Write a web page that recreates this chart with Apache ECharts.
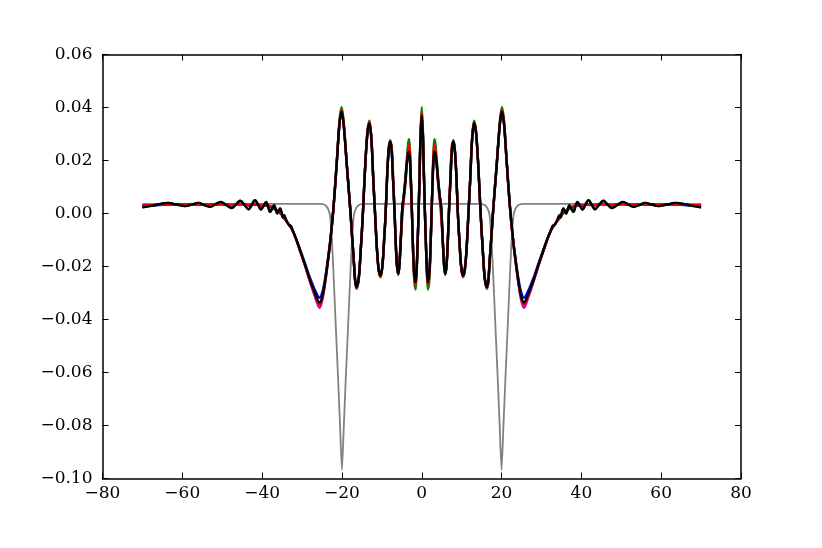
<!DOCTYPE html>
<html>
<head>
<meta charset="utf-8">
<script src="https://cdn.jsdelivr.net/npm/echarts@6/dist/echarts.min.js"></script>
<style>
  html, body { margin: 0; padding: 0; background: #fff; }
  #chart { width: 822px; height: 548px; }
</style>
</head>
<body>
<div id="chart"></div>
<script>
// shared x positions of the wave curves
var xs = [
  -70, -67, -63.5, -61.5, -59.3, -57.6, -56, -54.5, -53, -51.7,
  -50.4, -49, -47.6, -46.5, -45.5, -44.4, -43.4, -42.6, -41.8, -41,
  -40.3, -39.6, -39, -38.5, -38, -37.5, -37, -36.6, -36.2, -35.8,
  -35.5, -35.1, -34.8, -34.5, -34.1, -33.7, -33.2, -32.8, -32.4, -31.5,
  -30.5, -29.2, -28, -26.7, -25.6, -24.9, -24.2, -23.5, -22.9, -22.1,
  -21.25, -20.6, -20.1, -19.6, -18.75, -17.9, -17.2, -16.35, -15.8, -15.3,
  -14.75, -14.2, -13.6, -13.1, -12.6, -12.15, -11.7, -11.2, -10.75, -10.3,
  -9.85, -9.45, -9.05, -8.65, -8.25, -7.9, -7.55, -7.2, -6.8, -6.45,
  -6.15, -5.85, -5.55, -5.2, -4.85, -4.5, -4.1, -3.7, -3.4, -3.15,
  -2.9, -2.7, -2.45, -2.2, -1.9, -1.55, -1.3, -1.05, -0.8, -0.55, -0.3,
  0,
  0.3, 0.55, 0.8, 1.05, 1.3, 1.55, 1.9, 2.2, 2.45, 2.7, 2.9,
  3.15, 3.4, 3.7, 4.1, 4.5, 4.85, 5.2, 5.55, 5.85, 6.15,
  6.45, 6.8, 7.2, 7.55, 7.9, 8.25, 8.65, 9.05, 9.45, 9.85,
  10.3, 10.75, 11.2, 11.7, 12.15, 12.6, 13.1, 13.6, 14.2, 14.75,
  15.3, 15.8, 16.35, 17.2, 17.9, 18.75, 19.6, 20.1, 20.6, 21.25,
  22.1, 22.9, 23.5, 24.2, 24.9, 25.6, 26.7, 28, 29.2, 30.5,
  31.5, 32.4, 32.8, 33.2, 33.7, 34.1, 34.5, 34.8, 35.1, 35.5,
  35.8, 36.2, 36.6, 37, 37.5, 38, 38.5, 39, 39.6, 40.3,
  41, 41.8, 42.6, 43.4, 44.4, 45.5, 46.5, 47.6, 49, 50.4,
  51.7, 53, 54.5, 56, 57.6, 59.3, 61.5, 63.5, 67, 70
];

var blackY = [
  0.0023, 0.0031, 0.0040, 0.0034, 0.0028, 0.0034, 0.0040, 0.0032, 0.0025, 0.0035,
  0.0044, 0.0032, 0.0021, 0.0035, 0.0048, 0.0032, 0.0016, 0.0033, 0.0050, 0.0033,
  0.0015, 0.0030, 0.0044, 0.0026, 0.0006, 0.0018, 0.0031, 0.0016, 0.0000, 0.0011,
  0.0019, 0.0003, -0.0015, -0.0006, -0.0020, -0.0033, -0.0044, -0.0047, -0.0062, -0.0096,
  -0.0139, -0.0196, -0.0251, -0.0303, -0.0336, -0.0312, -0.0253, -0.0175, -0.0101, 0.0025,
  0.0202, 0.0341, 0.0385, 0.0341, 0.0177, 0.0013, -0.0139, -0.0278, -0.0245, -0.0140,
  0.0000, 0.0170, 0.0305, 0.0341, 0.0275, 0.0130, 0.0000, -0.0140, -0.0215, -0.0234,
  -0.0195, -0.0105, 0.0000, 0.0150, 0.0245, 0.0271, 0.0240, 0.0130, 0.0000, -0.0135,
  -0.0205, -0.0227, -0.0185, -0.0080, 0.0025, 0.0065, 0.0125, 0.0195, 0.0225, 0.0233,
  0.0190, 0.0110, 0.0000, -0.0125, -0.0225, -0.0259, -0.0215, -0.0115, 0.0000, 0.0140, 0.0290,
  0.0370,
  0.0290, 0.0140, 0.0000, -0.0115, -0.0215, -0.0259, -0.0225, -0.0125, 0.0000, 0.0110, 0.0190,
  0.0233, 0.0225, 0.0195, 0.0125, 0.0065, 0.0025, -0.0080, -0.0185, -0.0227, -0.0205,
  -0.0135, 0.0000, 0.0130, 0.0240, 0.0271, 0.0245, 0.0150, 0.0000, -0.0105, -0.0195,
  -0.0234, -0.0215, -0.0140, 0.0000, 0.0130, 0.0275, 0.0341, 0.0305, 0.0170, 0.0000,
  -0.0140, -0.0245, -0.0278, -0.0139, 0.0013, 0.0177, 0.0341, 0.0385, 0.0341, 0.0202,
  0.0025, -0.0101, -0.0175, -0.0253, -0.0312, -0.0336, -0.0303, -0.0251, -0.0196, -0.0139,
  -0.0096, -0.0062, -0.0047, -0.0044, -0.0033, -0.0020, -0.0006, -0.0015, 0.0003, 0.0019,
  0.0011, 0.0000, 0.0016, 0.0031, 0.0018, 0.0006, 0.0026, 0.0044, 0.0030, 0.0015,
  0.0033, 0.0050, 0.0033, 0.0016, 0.0032, 0.0048, 0.0035, 0.0021, 0.0032, 0.0044,
  0.0035, 0.0025, 0.0032, 0.0040, 0.0034, 0.0028, 0.0034, 0.0040, 0.0031, 0.0023
];

var redY = [
  0.0030, 0.0032, 0.0035, 0.0034, 0.0032, 0.0033, 0.0035, 0.0034, 0.0032, 0.0033,
  0.0036, 0.0034, 0.0031, 0.0033, 0.0036, 0.0034, 0.0031, 0.0032, 0.0035, 0.0033,
  0.0030, 0.0031, 0.0032, 0.0030, 0.0027, 0.0024, 0.0020, 0.0016, 0.0011, 0.0006,
  0.0002, -0.0004, -0.0011, -0.0017, -0.0025, -0.0033, -0.0044, -0.0052, -0.0062, -0.0097,
  -0.0140, -0.0198, -0.0254, -0.0308, -0.0345, -0.0318, -0.0257, -0.0178, -0.0103, 0.0024,
  0.0203, 0.0345, 0.0392, 0.0345, 0.0178, 0.0013, -0.0140, -0.0280, -0.0246, -0.0140,
  0.0000, 0.0170, 0.0308, 0.0345, 0.0278, 0.0130, 0.0000, -0.0142, -0.0218, -0.0237,
  -0.0197, -0.0105, 0.0000, 0.0150, 0.0250, 0.0268, 0.0255, 0.0150, 0.0005, -0.0130,
  -0.0205, -0.0228, -0.0170, -0.0090, -0.0010, 0.0050, 0.0110, 0.0190, 0.0245, 0.0259,
  0.0205, 0.0115, 0.0000, -0.0130, -0.0235, -0.0270, -0.0222, -0.0118, 0.0000, 0.0142, 0.0295,
  0.0382,
  0.0295, 0.0142, 0.0000, -0.0118, -0.0222, -0.0270, -0.0235, -0.0130, 0.0000, 0.0115, 0.0205,
  0.0259, 0.0245, 0.0190, 0.0110, 0.0050, -0.0010, -0.0090, -0.0170, -0.0228, -0.0205,
  -0.0130, 0.0005, 0.0150, 0.0255, 0.0268, 0.0250, 0.0150, 0.0000, -0.0105, -0.0197,
  -0.0237, -0.0218, -0.0142, 0.0000, 0.0130, 0.0278, 0.0345, 0.0308, 0.0170, 0.0000,
  -0.0140, -0.0246, -0.0280, -0.0140, 0.0013, 0.0178, 0.0345, 0.0392, 0.0345, 0.0203,
  0.0024, -0.0103, -0.0178, -0.0257, -0.0318, -0.0345, -0.0308, -0.0254, -0.0198, -0.0140,
  -0.0097, -0.0062, -0.0052, -0.0044, -0.0033, -0.0025, -0.0017, -0.0011, -0.0004, 0.0002,
  0.0006, 0.0011, 0.0016, 0.0020, 0.0024, 0.0027, 0.0030, 0.0032, 0.0031, 0.0030,
  0.0033, 0.0035, 0.0032, 0.0031, 0.0034, 0.0036, 0.0033, 0.0031, 0.0034, 0.0036,
  0.0033, 0.0032, 0.0034, 0.0035, 0.0033, 0.0032, 0.0034, 0.0035, 0.0032, 0.0030
];

var greenY = [
  0.0023, 0.0031, 0.0040, 0.0034, 0.0028, 0.0034, 0.0040, 0.0032, 0.0025, 0.0035,
  0.0044, 0.0032, 0.0021, 0.0035, 0.0048, 0.0032, 0.0016, 0.0033, 0.0050, 0.0033,
  0.0015, 0.0030, 0.0044, 0.0026, 0.0006, 0.0018, 0.0031, 0.0016, 0.0000, 0.0011,
  0.0019, 0.0003, -0.0015, -0.0006, -0.0020, -0.0033, -0.0044, -0.0047, -0.0062, -0.0096,
  -0.0139, -0.0196, -0.0252, -0.0306, -0.0340, -0.0314, -0.0255, -0.0176, -0.0101, 0.0027,
  0.0208, 0.0352, 0.0402, 0.0352, 0.0180, 0.0013, -0.0141, -0.0284, -0.0250, -0.0142,
  0.0000, 0.0174, 0.0312, 0.0350, 0.0280, 0.0132, 0.0000, -0.0143, -0.0220, -0.0240,
  -0.0198, -0.0106, 0.0000, 0.0153, 0.0250, 0.0277, 0.0245, 0.0132, 0.0000, -0.0137,
  -0.0208, -0.0232, -0.0188, -0.0081, 0.0025, 0.0070, 0.0135, 0.0215, 0.0265, 0.0280,
  0.0220, 0.0120, 0.0000, -0.0135, -0.0250, -0.0287, -0.0235, -0.0120, 0.0000, 0.0150, 0.0310,
  0.0402,
  0.0310, 0.0150, 0.0000, -0.0120, -0.0235, -0.0287, -0.0250, -0.0135, 0.0000, 0.0120, 0.0220,
  0.0280, 0.0265, 0.0215, 0.0135, 0.0070, 0.0025, -0.0081, -0.0188, -0.0232, -0.0208,
  -0.0137, 0.0000, 0.0132, 0.0245, 0.0277, 0.0250, 0.0153, 0.0000, -0.0106, -0.0198,
  -0.0240, -0.0220, -0.0143, 0.0000, 0.0132, 0.0280, 0.0350, 0.0312, 0.0174, 0.0000,
  -0.0142, -0.0250, -0.0284, -0.0141, 0.0013, 0.0180, 0.0352, 0.0402, 0.0352, 0.0208,
  0.0027, -0.0101, -0.0176, -0.0255, -0.0314, -0.0340, -0.0306, -0.0252, -0.0196, -0.0139,
  -0.0096, -0.0062, -0.0047, -0.0044, -0.0033, -0.0020, -0.0006, -0.0015, 0.0003, 0.0019,
  0.0011, 0.0000, 0.0016, 0.0031, 0.0018, 0.0006, 0.0026, 0.0044, 0.0030, 0.0015,
  0.0033, 0.0050, 0.0033, 0.0016, 0.0032, 0.0048, 0.0035, 0.0021, 0.0032, 0.0044,
  0.0035, 0.0025, 0.0032, 0.0040, 0.0034, 0.0028, 0.0034, 0.0040, 0.0031, 0.0023
];

var blueY = [
  0.0029, 0.0031, 0.0034, 0.0034, 0.0033, 0.0033, 0.0034, 0.0034, 0.0033, 0.0033,
  0.0035, 0.0034, 0.0032, 0.0033, 0.0035, 0.0034, 0.0032, 0.0032, 0.0034, 0.0032,
  0.0029, 0.0029, 0.0030, 0.0028, 0.0025, 0.0022, 0.0018, 0.0014, 0.0010, 0.0005,
  0.0001, -0.0005, -0.0012, -0.0018, -0.0026, -0.0034, -0.0045, -0.0053, -0.0062, -0.0094,
  -0.0135, -0.0190, -0.0243, -0.0291, -0.0318, -0.0296, -0.0243, -0.0170, -0.0098, 0.0026,
  0.0202, 0.0341, 0.0385, 0.0341, 0.0177, 0.0013, -0.0139, -0.0278, -0.0245, -0.0140,
  0.0000, 0.0170, 0.0305, 0.0341, 0.0275, 0.0130, 0.0000, -0.0140, -0.0215, -0.0234,
  -0.0195, -0.0105, 0.0000, 0.0150, 0.0245, 0.0271, 0.0240, 0.0130, 0.0000, -0.0135,
  -0.0205, -0.0227, -0.0185, -0.0080, 0.0025, 0.0065, 0.0125, 0.0195, 0.0225, 0.0233,
  0.0190, 0.0110, 0.0000, -0.0125, -0.0225, -0.0259, -0.0215, -0.0115, 0.0000, 0.0140, 0.0290,
  0.0370,
  0.0290, 0.0140, 0.0000, -0.0115, -0.0215, -0.0259, -0.0225, -0.0125, 0.0000, 0.0110, 0.0190,
  0.0233, 0.0225, 0.0195, 0.0125, 0.0065, 0.0025, -0.0080, -0.0185, -0.0227, -0.0205,
  -0.0135, 0.0000, 0.0130, 0.0240, 0.0271, 0.0245, 0.0150, 0.0000, -0.0105, -0.0195,
  -0.0234, -0.0215, -0.0140, 0.0000, 0.0130, 0.0275, 0.0341, 0.0305, 0.0170, 0.0000,
  -0.0140, -0.0245, -0.0278, -0.0139, 0.0013, 0.0177, 0.0341, 0.0385, 0.0341, 0.0202,
  0.0026, -0.0098, -0.0170, -0.0243, -0.0296, -0.0318, -0.0291, -0.0243, -0.0190, -0.0135,
  -0.0094, -0.0062, -0.0053, -0.0045, -0.0034, -0.0026, -0.0018, -0.0012, -0.0005, 0.0001,
  0.0005, 0.0010, 0.0014, 0.0018, 0.0022, 0.0025, 0.0028, 0.0030, 0.0029, 0.0029,
  0.0032, 0.0034, 0.0032, 0.0032, 0.0034, 0.0035, 0.0033, 0.0032, 0.0034, 0.0035,
  0.0033, 0.0033, 0.0034, 0.0034, 0.0033, 0.0033, 0.0034, 0.0034, 0.0031, 0.0029
];

var magentaY = [
  0.0030, 0.0032, 0.0035, 0.0034, 0.0032, 0.0033, 0.0035, 0.0034, 0.0032, 0.0033,
  0.0036, 0.0034, 0.0031, 0.0033, 0.0036, 0.0034, 0.0031, 0.0032, 0.0035, 0.0033,
  0.0030, 0.0031, 0.0032, 0.0030, 0.0027, 0.0024, 0.0020, 0.0016, 0.0011, 0.0006,
  0.0002, -0.0004, -0.0011, -0.0017, -0.0025, -0.0033, -0.0044, -0.0052, -0.0062, -0.0097,
  -0.0141, -0.0200, -0.0258, -0.0316, -0.0356, -0.0326, -0.0262, -0.0181, -0.0104, 0.0024,
  0.0202, 0.0341, 0.0385, 0.0341, 0.0177, 0.0013, -0.0139, -0.0278, -0.0245, -0.0140,
  0.0000, 0.0170, 0.0305, 0.0341, 0.0275, 0.0130, 0.0000, -0.0140, -0.0215, -0.0234,
  -0.0195, -0.0105, 0.0000, 0.0150, 0.0245, 0.0271, 0.0240, 0.0130, 0.0000, -0.0135,
  -0.0205, -0.0227, -0.0185, -0.0080, 0.0025, 0.0065, 0.0125, 0.0195, 0.0225, 0.0233,
  0.0190, 0.0110, 0.0000, -0.0125, -0.0225, -0.0259, -0.0215, -0.0115, 0.0000, 0.0140, 0.0290,
  0.0370,
  0.0290, 0.0140, 0.0000, -0.0115, -0.0215, -0.0259, -0.0225, -0.0125, 0.0000, 0.0110, 0.0190,
  0.0233, 0.0225, 0.0195, 0.0125, 0.0065, 0.0025, -0.0080, -0.0185, -0.0227, -0.0205,
  -0.0135, 0.0000, 0.0130, 0.0240, 0.0271, 0.0245, 0.0150, 0.0000, -0.0105, -0.0195,
  -0.0234, -0.0215, -0.0140, 0.0000, 0.0130, 0.0275, 0.0341, 0.0305, 0.0170, 0.0000,
  -0.0140, -0.0245, -0.0278, -0.0139, 0.0013, 0.0177, 0.0341, 0.0385, 0.0341, 0.0202,
  0.0024, -0.0104, -0.0181, -0.0262, -0.0326, -0.0356, -0.0316, -0.0258, -0.0200, -0.0141,
  -0.0097, -0.0062, -0.0052, -0.0044, -0.0033, -0.0025, -0.0017, -0.0011, -0.0004, 0.0002,
  0.0006, 0.0011, 0.0016, 0.0020, 0.0024, 0.0027, 0.0030, 0.0032, 0.0031, 0.0030,
  0.0033, 0.0035, 0.0032, 0.0031, 0.0034, 0.0036, 0.0033, 0.0031, 0.0034, 0.0036,
  0.0033, 0.0032, 0.0034, 0.0035, 0.0033, 0.0032, 0.0034, 0.0035, 0.0032, 0.0030
];

// potential (gray)
var potX = [
  -70, -25.5, -24.5, -24, -23.5, -23, -22.5, -22, -21.5, -21, -20.5,
  -20, -19.5, -19, -18.5, -18, -17.5, -17, -16.5, -16, -15.5, -14.5,
  14.5, 15.5, 16, 16.5, 17, 17.5, 18, 18.5, 19, 19.5,
  20, 20.5, 21, 21.5, 22, 22.5, 23, 23.5, 24, 24.5, 25.5, 70
];
var potY = [
  0.0036, 0.0036, 0.0034, 0.0029, 0.0018, -0.0006, -0.0105, -0.0265, -0.0440, -0.0610, -0.0790,
  -0.0968, -0.0790, -0.0610, -0.0440, -0.0265, -0.0105, -0.0006, 0.0018, 0.0029, 0.0034, 0.0036,
  0.0036, 0.0034, 0.0029, 0.0018, -0.0006, -0.0105, -0.0265, -0.0440, -0.0610, -0.0790,
  -0.0968, -0.0790, -0.0610, -0.0440, -0.0265, -0.0105, -0.0006, 0.0018, 0.0029, 0.0034, 0.0036, 0.0036
];

var xTicks = { min: -80, max: 80, interval: 20 };
var yTicks = { min: -0.1, max: 0.06, interval: 0.02 };

function pairs(xv, yv) {
  return xv.map(function (x, i) { return [x, yv[i]]; });
}
function minus(s) {
  return String(s).replace("-", "\u2212");
}

var font = "DejaVu Serif";
var frame = { show: true, onZero: false, lineStyle: { color: "#000", width: 1.5 } };
var ticks = { show: true, inside: true, length: 6, lineStyle: { color: "#000", width: 1 } };

function wave(name, color, ys) {
  return {
    name: name,
    type: "line",
    data: pairs(xs, ys),
    showSymbol: false,
    smooth: 0.35,
    lineStyle: { color: color, width: 2.4 },
    animation: false,
  };
}

var chart = echarts.init(document.getElementById("chart"));
chart.setOption({
  animation: false,
  grid: { left: 102.5, right: 81, top: 54.5, bottom: 69.5 },
  xAxis: [
    {
      type: "value",
      position: "bottom",
      min: xTicks.min, max: xTicks.max, interval: xTicks.interval,
      axisLine: frame,
      axisTick: ticks,
      splitLine: { show: false },
      axisLabel: {
        margin: 7, color: "#000", fontFamily: font, fontSize: 17,
        showMinLabel: true, showMaxLabel: true,
        formatter: function (v) { return minus(v); },
      },
    },
    {
      type: "value",
      position: "top",
      min: xTicks.min, max: xTicks.max, interval: xTicks.interval,
      axisLine: frame,
      axisTick: ticks,
      splitLine: { show: false },
      axisLabel: { show: false },
    },
  ],
  yAxis: [
    {
      type: "value",
      position: "left",
      min: yTicks.min, max: yTicks.max, interval: yTicks.interval,
      axisLine: frame,
      axisTick: ticks,
      splitLine: { show: false },
      axisLabel: {
        margin: 10, color: "#000", fontFamily: font, fontSize: 17,
        showMinLabel: true, showMaxLabel: true,
        formatter: function (v) { return minus(v.toFixed(2)); },
      },
    },
    {
      type: "value",
      position: "right",
      min: yTicks.min, max: yTicks.max, interval: yTicks.interval,
      axisLine: frame,
      axisTick: ticks,
      splitLine: { show: false },
      axisLabel: { show: false },
    },
  ],
  series: [
    {
      name: "potential",
      type: "line",
      data: pairs(potX, potY),
      showSymbol: false,
      smooth: 0.2,
      lineStyle: { color: "#808080", width: 1.8 },
      animation: false,
    },
    wave("magenta", "#bf00bf", magentaY),
    wave("blue", "#0000ff", blueY),
    wave("green", "#008000", greenY),
    wave("red", "#ff0000", redY),
    wave("black", "#000000", blackY),
  ],
});
</script>
</body>
</html>
